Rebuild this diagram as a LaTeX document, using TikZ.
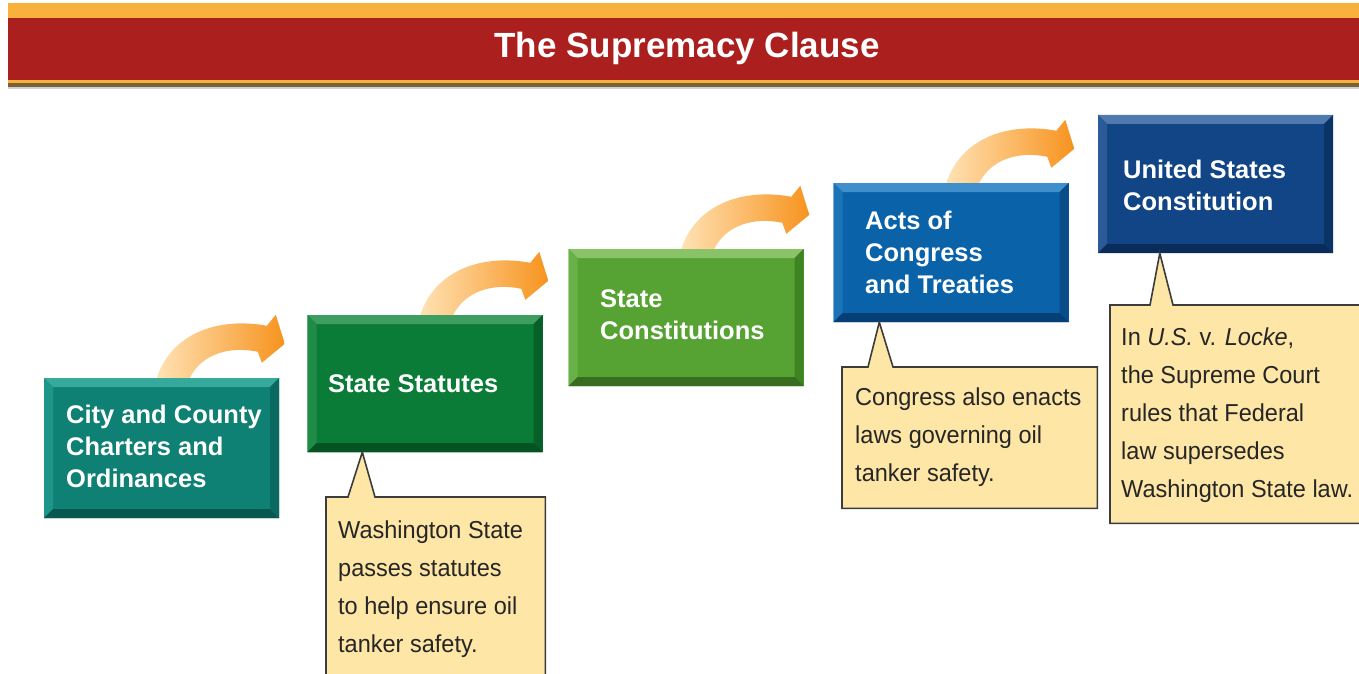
\documentclass[tikz,border=0pt]{standalone}
\usepackage{fontspec}
\setmainfont{Liberation Sans}
\newfontfamily\callfont{Liberation Sans}[FakeStretch=0.96]
\definecolor{bandorange}{HTML}{F8B13C}
\definecolor{bandred}{HTML}{AB1F1F}
\definecolor{bandshadow}{HTML}{7A6238}
\definecolor{callfill}{HTML}{FDE6A6}
\definecolor{callline}{HTML}{3C3C3C}
\definecolor{calltext}{HTML}{262626}
\definecolor{arrpale}{HTML}{FFE2B4}
\definecolor{arrorange}{HTML}{F7931E}
% box colours: base, top, left, right, bottom
\definecolor{tealB}{HTML}{0E8074}\definecolor{tealT}{HTML}{35A99B}\definecolor{tealL}{HTML}{1F9488}\definecolor{tealR}{HTML}{0A6A60}\definecolor{tealD}{HTML}{075850}
\definecolor{dgrB}{HTML}{0A7C37}\definecolor{dgrT}{HTML}{3E9D60}\definecolor{dgrL}{HTML}{1F8C47}\definecolor{dgrR}{HTML}{066028}\definecolor{dgrD}{HTML}{055222}
\definecolor{lgrB}{HTML}{56A232}\definecolor{lgrT}{HTML}{8AC268}\definecolor{lgrL}{HTML}{6AB049}\definecolor{lgrR}{HTML}{3F8423}\definecolor{lgrD}{HTML}{386C1E}
\definecolor{bluB}{HTML}{0A62A8}\definecolor{bluT}{HTML}{3F8FCD}\definecolor{bluL}{HTML}{1C74B8}\definecolor{bluR}{HTML}{084C88}\definecolor{bluD}{HTML}{063E76}
\definecolor{navB}{HTML}{114586}\definecolor{navT}{HTML}{5079AE}\definecolor{navL}{HTML}{2C5A98}\definecolor{navR}{HTML}{0B3466}\definecolor{navD}{HTML}{0A2C5A}
\tikzset{
  lawbox/.style n args={5}{fill=#1, minimum width=235pt, minimum height=138pt, inner sep=0pt,
    path picture={
      \fill[#2] (path picture bounding box.north west) -- (path picture bounding box.north east)
        -- ([xshift=-9pt,yshift=-9pt]path picture bounding box.north east)
        -- ([xshift=9pt,yshift=-9pt]path picture bounding box.north west) -- cycle;
      \fill[#3] (path picture bounding box.north west) -- ([xshift=9pt,yshift=-9pt]path picture bounding box.north west)
        -- ([xshift=9pt,yshift=9pt]path picture bounding box.south west) -- (path picture bounding box.south west) -- cycle;
      \fill[#4] (path picture bounding box.north east) -- ([xshift=-9pt,yshift=-9pt]path picture bounding box.north east)
        -- ([xshift=-9pt,yshift=9pt]path picture bounding box.south east) -- (path picture bounding box.south east) -- cycle;
      \fill[#5] (path picture bounding box.south west) -- ([xshift=9pt,yshift=9pt]path picture bounding box.south west)
        -- ([xshift=-9pt,yshift=9pt]path picture bounding box.south east) -- (path picture bounding box.south east) -- cycle;
    }},
  boxtext/.style={anchor=west, inner sep=0pt, align=left, text=white,
    font=\bfseries\fontsize{25.5}{32}\selectfont},
  callframe/.style={inner sep=0pt, anchor=north west},
  callout/.style={fill=callfill, draw=callline, line width=1.6pt, line join=miter},
  calltxt/.style={anchor=west, inner sep=0pt, align=left, text=calltext,
    font=\callfont\fontsize{24.5}{38}\selectfont},
  climb/.style={left color=arrpale, right color=arrorange, draw=none},
}
\newcommand\climbarrow{%
  \path[climb] (113,0) .. controls (128,-45) and (175,-61) .. (223,-52)
    -- (232,-63) -- (241,-34) -- (218,-15) -- (214,-26)
    .. controls (186,-32) and (158,-24) .. (146,0) -- cycle;}
\begin{document}
\begin{tikzpicture}[x=1pt,y=-1pt]
\useasboundingbox (0,0) rectangle (1359,674);
\clip (0,0) rectangle (1359,674);
\fill[white] (0,0) rectangle (1359,674);

% title band
\fill[bandorange] (8,3) rectangle (1359,18);
\fill[bandred] (8,18) rectangle (1359,80);
\fill[bandorange] (8,80) rectangle (1359,83);
\fill[bandshadow] (8,83) rectangle (1359,87);
\fill[black!18] (8,87) rectangle (1359,89);
\node[text=white, font=\bfseries\fontsize{35}{40}\selectfont, inner sep=0pt] (title) at (687,48) {The Supremacy Clause};

% box nodes (placed first so arrows/callouts can refer to them)
\node[lawbox={tealB}{tealT}{tealL}{tealR}{tealD}, minimum height=140pt] (b1) at (161.5,448) {};
\node[lawbox={dgrB}{dgrT}{dgrL}{dgrR}{dgrD}, minimum height=137pt] (b2) at (425,383.5) {};
\node[lawbox={lgrB}{lgrT}{lgrL}{lgrR}{lgrD}, minimum height=137pt] (b3) at (686,317.5) {};
\node[lawbox={bluB}{bluT}{bluL}{bluR}{bluD}, minimum height=139pt] (b4) at (951,252.5) {};
\node[lawbox={navB}{navT}{navL}{navR}{navD}] (b5) at (1215.5,184) {};

% climbing arrows (from each box top to the next box)
\foreach \b in {b1,b2,b3,b4}{
  \begin{scope}[shift={(\b.north west)}]
    \climbarrow
  \end{scope}
}

% redraw boxes over arrow bases
\node[lawbox={tealB}{tealT}{tealL}{tealR}{tealD}, minimum height=140pt] (b1r) at (b1) {};
\node[lawbox={dgrB}{dgrT}{dgrL}{dgrR}{dgrD}, minimum height=137pt] (b2r) at (b2) {};
\node[lawbox={lgrB}{lgrT}{lgrL}{lgrR}{lgrD}, minimum height=137pt] (b3r) at (b3) {};
\node[lawbox={bluB}{bluT}{bluL}{bluR}{bluD}, minimum height=139pt] (b4r) at (b4) {};

% box texts
\node[boxtext] (t1) at (66,446) {City and County\\Charters and\\Ordinances};
\node[boxtext] (t3) at (600,315) {State\\Constitutions};
\node[boxtext] (t4) at (865,252) {Acts of\\Congress\\and Treaties};
\node[boxtext] (t5) at (1123,185) {United States\\Constitution};

% callouts
\node[callframe, minimum width=219pt, minimum height=210pt] (c1) at (326,497) {};
\draw[callout] (c1.north west) -- ([xshift=22pt]c1.north west) -- ([xshift=55pt]b2.south west)
  -- ([xshift=49pt]c1.north west) -- (c1.north east) -- (c1.south east) -- (c1.south west) -- cycle;
\node[callframe, minimum width=255pt, minimum height=141pt] (c2) at (842,367) {};
\draw[callout] (c2.north west) -- ([xshift=26pt]c2.north west) -- ([xshift=46pt]b4.south west)
  -- ([xshift=51pt]c2.north west) -- (c2.north east) -- (c2.south east) -- (c2.south west) -- cycle;
\node[callframe, minimum width=270pt, minimum height=218pt] (c3) at (1110,305) {};
\draw[callout] (c3.north west) -- ([xshift=40pt]c3.north west) -- ([xshift=62pt]b5.south west)
  -- ([xshift=63pt]c3.north west) -- (c3.north east) -- (c3.south east) -- (c3.south west) -- cycle;

% redraw box over callout pointer tip
\node[lawbox={dgrB}{dgrT}{dgrL}{dgrR}{dgrD}, minimum height=137pt] (b2s) at (b2) {};
\node[boxtext] (t2) at (328,384) {State Statutes};

\node[calltxt] (ct1) at (338,589) {Washington State\\passes statutes\\to help ensure oil\\tanker safety.};
\node[calltxt] (ct2) at (855,437.5) {Congress also enacts\\laws governing oil\\tanker safety.};
\node[calltxt] (ct3) at (1121,415) {In \textit{U.S.} v. \textit{Locke},\\the Supreme Court\\rules that Federal\\law supersedes\\Washington State law.};
\end{tikzpicture}
\end{document}
